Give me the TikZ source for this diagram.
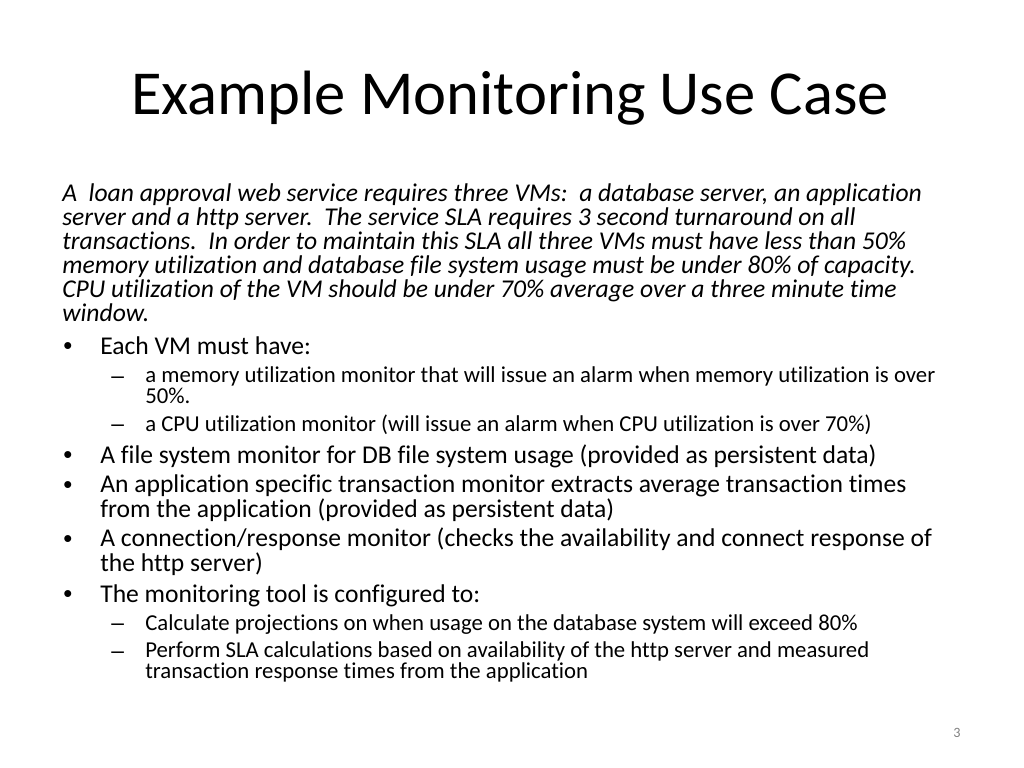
\documentclass[tikz,border=0pt]{standalone}
\usepackage{fontspec}
\setmainfont{Carlito}[Ligatures={TeX,NoCommon}]
\newfontfamily\markfont{Liberation Sans}
\frenchspacing
\begin{document}
\begin{tikzpicture}[x=0.703125pt,y=-0.703125pt,
	heading/.style={anchor=base,inner sep=0pt,font=\fontsize{44}{53}\selectfont},
	intro/.style={anchor=base west,align=left,inner sep=0pt,font=\fontsize{18}{16.9}\selectfont\itshape},
	item/.style={anchor=base west,align=left,inner sep=0pt,font=\fontsize{18}{16.9}\selectfont},
	subitem/.style={anchor=base west,align=left,inner sep=0pt,font=\fontsize{16}{14.2}\selectfont},
	dot/.style={anchor=base west,inner sep=0pt,font=\markfont\fontsize{18}{18}\selectfont},
	subdot/.style={anchor=base west,inner sep=0pt,font=\markfont\fontsize{16}{16}\selectfont}]
	\useasboundingbox (0,0) rectangle (1024,768);
	\node[heading] (title) at (510,115) {Example Monitoring Use Case};
	% multi-line nodes sit on the baseline of their last line
	\node[intro] (intro) at (62,322) {A\ \ loan approval web service requires three VMs:\ \ a database server, an application\\
		server and a http server.\ \ The service SLA requires 3 second turnaround on all\\
		transactions.\ \ In order to maintain this SLA all three VMs must have less than 50\%\\
		memory utilization and database file system usage must be under 80\% of capacity.\\
		CPU utilization of the VM should be under 70\% average over a three minute time\\
		window.};
	\node[dot] (b1) at (63,354) {\textbullet};
	\node[item] (vm) at (100,354) {Each VM must have:};
	\node[subdot] (s1) at (111,383) {\textendash};
	\node[subitem] (mem) at (145,403) {a memory utilization monitor that will issue an alarm when memory utilization is over\\50\%.};
	\node[subdot] (s2) at (111,431) {\textendash};
	\node[subitem] (cpu) at (145,431) {a CPU utilization monitor (will issue an alarm when CPU utilization is over 70\%)};
	\node[dot] (b2) at (63,463) {\textbullet};
	\node[item] (fs) at (100,463) {A file system monitor for DB file system usage (provided as persistent data)};
	\node[dot] (b3) at (63,493) {\textbullet};
	\node[item] (trans) at (100,517) {An application specific transaction monitor extracts average transaction times\\from the application (provided as persistent data)};
	\node[dot] (b4) at (63,547) {\textbullet};
	\node[item] (conn) at (100,571) {A connection/response monitor (checks the availability and connect response of\\the http server)};
	\node[dot] (b5) at (63,602) {\textbullet};
	\node[item] (tool) at (100,602) {The monitoring tool is configured to:};
	\node[subdot] (s3) at (111,630) {\textendash};
	\node[subitem] (proj) at (145,630) {Calculate projections on when usage on the database system will exceed 80\%};
	\node[subdot] (s4) at (111,658) {\textendash};
	\node[subitem] (sla) at (145,678) {Perform SLA calculations based on availability of the http server and measured\\transaction response times from the application};
	\node[anchor=base,inner sep=0pt,text=black!50,font=\fontsize{10}{12}\selectfont] (page) at (957,737) {3};
\end{tikzpicture}
\end{document}
